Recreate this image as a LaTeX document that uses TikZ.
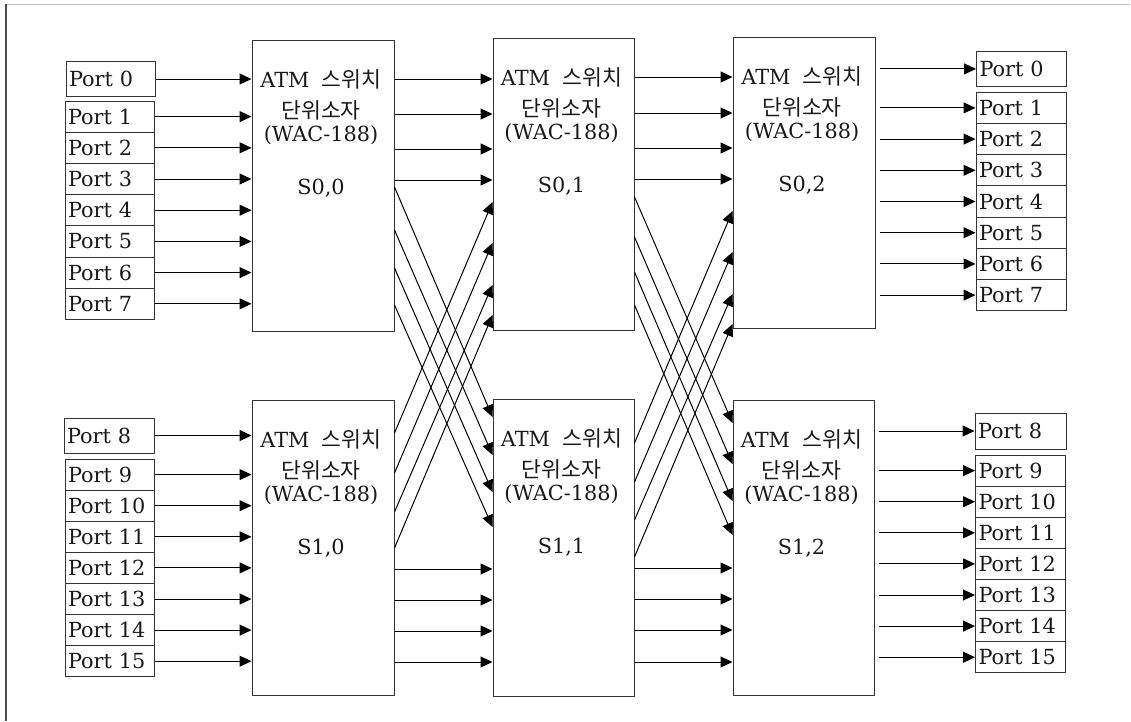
\documentclass[tikz,border=0pt]{standalone}
\usepackage{fontspec}
\setmainfont{DejaVu Serif}
\newfontfamily\kr[Scale=1.04]{Noto Sans CJK KR}
\usetikzlibrary{arrows.meta,calc}
\newcommand\atmlabel[4]{%
  \node[lbl] (#1a) at (#2,{#3+47}) {ATM\hspace{0.6em}{\kr 스위치}};
  \node[lbl] (#1b) at (#2,{#3+78}) {{\kr 단위소자}};
  \node[lbl] (#1c) at (#2,{#3+101}) {(WAC-188)};
  \node[lbl] (#1d) at (#2,{#3+154}) {#4};
}
\begin{document}
\begin{tikzpicture}[x=1pt,y=-1pt,
  font=\fontsize{20.8}{25}\selectfont,
  arr/.style={line width=1pt,draw=black,-{Triangle[length=12pt,width=11pt]}},
  sw/.style={draw=black!80,line width=1pt,rectangle,inner sep=0pt},
  port/.style={draw=black!80,line width=1pt,rectangle,text width=83pt,inner xsep=3pt,inner ysep=0pt,
    align=left,minimum height=31.2pt,text height=15pt,text depth=0pt,text=black!90},
  lbl/.style={anchor=base,inner sep=0pt,text=black!90}]
\useasboundingbox (0,0) rectangle (1131,721);
% frame lines
\draw[black!25,line width=1pt] (6,4) -- (1130,4);
\draw[black!70,line width=1.5pt] (6,4) -- (6,721);

% switch boxes
\node[sw,minimum width=142pt,minimum height=291pt] (s00) at (323,185.5) {};
\node[sw,minimum width=141pt,minimum height=292pt] (s01) at (563.5,184) {};
\node[sw,minimum width=142pt,minimum height=291pt] (s02) at (804,182.5) {};
\node[sw,minimum width=142pt,minimum height=295pt] (s10) at (323,548.3) {};
\node[sw,minimum width=141pt,minimum height=297pt] (s11) at (563.5,547.5) {};
\node[sw,minimum width=141pt,minimum height=295pt] (s12) at (803.5,547.5) {};

\atmlabel{t00}{321}{40}{S0,0}
\atmlabel{t01}{561.5}{38}{S0,1}
\atmlabel{t02}{802}{37}{S0,2}
\atmlabel{t10}{321}{400.7}{S1,0}
\atmlabel{t11}{561.5}{399}{S1,1}
\atmlabel{t12}{801.5}{400}{S1,2}

% left ports
\node[port,minimum height=35pt] (L0) at (110.5,79) {Port 0};
\foreach \i in {1,...,7} \node[port] (L\i) at (109.5,{116.6+31.2*(\i-1)}) {Port \i};
\node[port,minimum height=35pt,text width=84pt] (L8) at (109,435.5) {Port 8};
\foreach \i in {9,...,15} \node[port] (L\i) at (109.5,{474.6+31.1*(\i-9)}) {Port \i};

% right ports
\node[port,minimum height=35.7pt,text width=84pt] (R0) at (1021.5,68.9) {Port 0};
\foreach \i in {1,...,7} \node[port,text width=84pt] (R\i) at (1021,{107.9+31.2*(\i-1)}) {Port \i};
\node[port,minimum height=36pt,text width=85pt] (R8) at (1020.5,431) {Port 8};
\foreach \i in {9,...,15} \node[port,text width=84pt] (R\i) at (1020.5,{470.6+31.1*(\i-9)}) {Port \i};

% input arrows
\foreach \i in {0,...,7} \draw[arr] (L\i.east) -- (L\i.east -| s00.west);
\foreach \i in {8,...,15} \draw[arr] (L\i.east) -- (L\i.east -| s10.west);

% output arrows
\foreach \i in {0,...,7} \draw[arr] ($(s02.east |- R\i.west)+(4,0)$) -- (R\i.west);
\foreach \i in {8,...,15} \draw[arr] ($(s12.east |- R\i.west)+(4,0)$) -- (R\i.west);

% straight links
\foreach \y in {79,114,149,180} {\path (0,\y) coordinate (yy); \draw[arr] (s00.east |- yy) -- (s01.west |- yy);}
\foreach \y in {77,113,148,179} {\path (0,\y) coordinate (yy); \draw[arr] (s01.east |- yy) -- (s02.west |- yy);}
\foreach \y in {569,600,631,662} {\path (0,\y) coordinate (yy); \draw[arr] (s10.east |- yy) -- (s11.west |- yy);}
\foreach \y in {568,599,630,662} {\path (0,\y) coordinate (yy); \draw[arr] (s11.east |- yy) -- (s12.west |- yy);}

% crossing links
\foreach \a/\b in {187/417,230/455,268/492,305/527}
  {\path (0,\a) coordinate (ya) (0,\b) coordinate (yb); \draw[arr] (s00.east |- ya) -- (s11.west |- yb);}
\foreach \a/\b in {433/202,473/243,512/285,548/315}
  {\path (0,\a) coordinate (ya) (0,\b) coordinate (yb); \draw[arr] (s10.east |- ya) -- (s01.west |- yb);}
\foreach \a/\b in {197/423,237/464,272/501,305/535}
  {\path (0,\a) coordinate (ya) (0,\b) coordinate (yb); \draw[arr] (s01.east |- ya) -- (s12.west |- yb);}
\foreach \a/\b in {443/211,482/252,520/294,557/324}
  {\path (0,\a) coordinate (ya) (0,\b) coordinate (yb); \draw[arr] (s11.east |- ya) -- (s02.west |- yb);}
\end{tikzpicture}
\end{document}
